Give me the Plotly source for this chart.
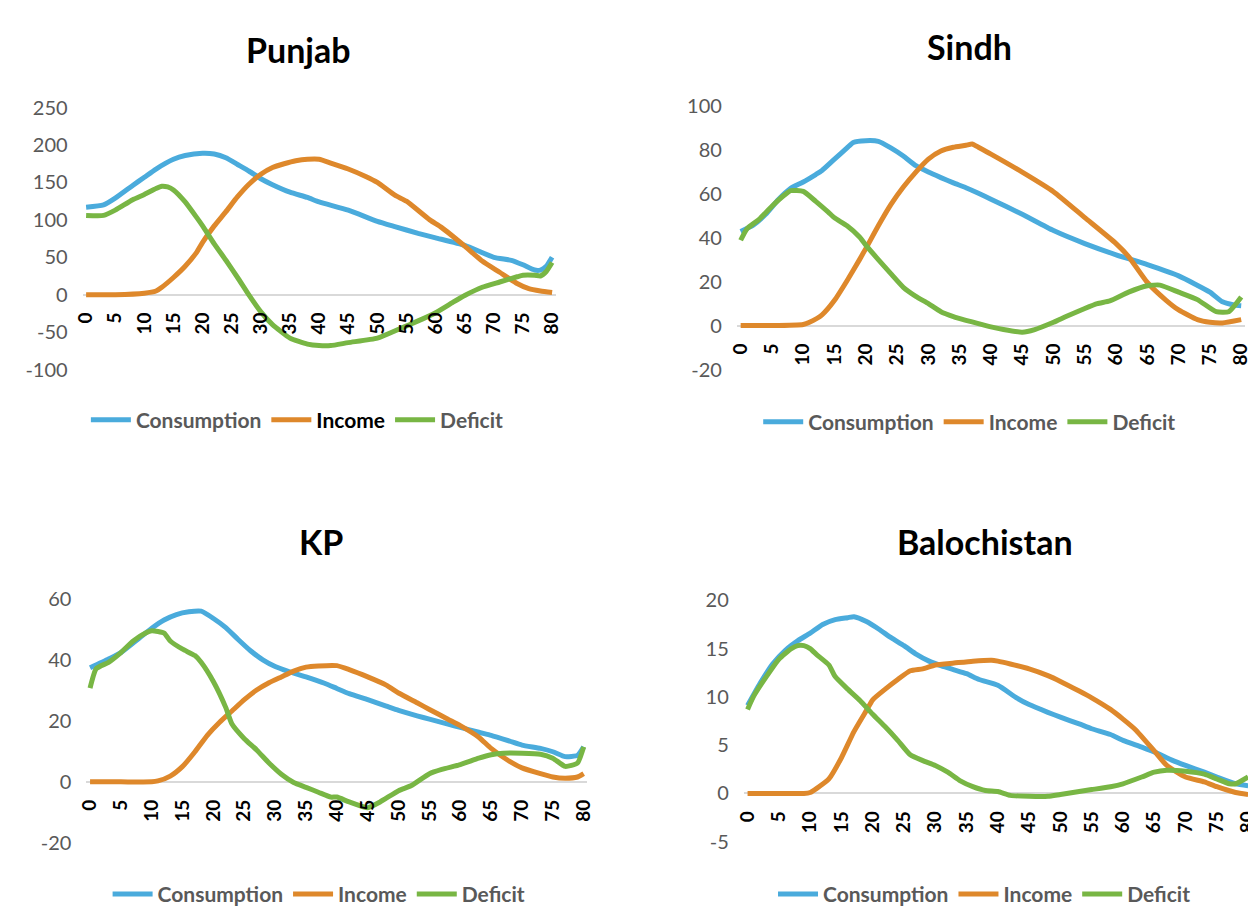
import plotly.graph_objects as go

W, H = 1256, 909

# ---------------- data ----------------
panels = ["Punjab", "Sindh", "KP", "Balochistan"]
series_names = ["Consumption", "Income", "Deficit"]

# Punjab
pun_cons_age = [0, 3, 5, 8, 10, 12, 15, 17, 20, 22, 24, 26, 28, 30, 32, 35, 38, 40, 45, 50, 53, 57, 60, 65, 70, 73, 75, 77, 78, 79, 80]
pun_cons = [117, 120, 129, 146, 157, 168, 181, 186, 189, 188, 183, 174, 165, 155, 147, 137, 130, 124, 113, 98, 91, 82, 76, 66, 50, 46, 40, 33, 33, 38, 50]
pun_inc_age = [0, 5, 10, 12, 13, 15, 17, 19, 20, 22, 24, 26, 28, 30, 32, 34, 36, 38, 40, 42, 45, 48, 50, 53, 55, 59, 61, 65, 68, 71, 74, 76, 78, 80]
pun_inc = [0, 0, 2, 5, 10, 23, 38, 57, 70, 92, 111, 131, 148, 161, 170, 175, 179, 181, 181, 176, 168, 158, 150, 133, 125, 100, 90, 65, 45, 30, 15, 8, 5, 3]
pun_def_age = [0, 3, 5, 8, 10, 12, 13, 14, 15, 17, 19, 20, 22, 24, 26, 28, 30, 32, 35, 38, 40, 42, 45, 50, 54, 57, 60, 63, 65, 68, 71, 74, 75, 77, 78, 79, 80]
pun_def = [106, 106, 113, 127, 134, 142, 145, 144, 140, 124, 103, 92, 68, 46, 23, -1, -23, -40, -58, -66, -68, -68, -64, -58, -45, -35, -24, -10, -1, 10, 17, 24, 26, 26, 25, 31, 43]

# Sindh
sin_cons_age = [0, 2, 4, 6, 8, 10, 12, 13, 15, 17, 18, 20, 22, 24, 26, 28, 30, 32, 34, 36, 38, 40, 45, 50, 55, 60, 65, 70, 75, 77, 79, 80]
sin_cons = [42.8, 45.7, 50.6, 57.2, 62.4, 65.3, 68.7, 70.5, 75.7, 80.8, 83.3, 84.1, 83.8, 80.8, 77.1, 72.7, 69.8, 67.3, 64.9, 62.7, 60.2, 57.5, 50.6, 43.2, 37.3, 32.2, 27.7, 22.6, 15.2, 10.8, 9.3, 9.0]
sin_inc_age = [0, 5, 10, 11, 13, 15, 17, 19, 20, 22, 24, 26, 28, 30, 32, 34, 36, 37, 38, 40, 45, 50, 55, 60, 62, 65, 68, 70, 73, 75, 77, 80]
sin_inc = [0, 0, 0.5, 1.5, 4.9, 11.5, 20.4, 30, 35, 45.4, 55, 63, 69.8, 75.7, 79.4, 81.1, 82, 82.6, 81.1, 78, 69.8, 60.9, 49.1, 37.3, 31.4, 19.6, 11.5, 7.1, 2.7, 1.5, 1.2, 2.7]
sin_def_age = [0, 1, 3, 5, 7, 8, 10, 12, 14, 15, 17, 19, 20, 22, 24, 26, 28, 30, 32, 34, 36, 38, 40, 42, 45, 47, 50, 52, 55, 57, 59, 62, 65, 67, 70, 73, 76, 78, 80]
sin_def = [38.8, 44, 48.4, 54.3, 59.4, 61.4, 61, 56.5, 51.6, 49, 45.4, 40.3, 36.6, 30, 23.6, 17.4, 13.3, 10, 6.3, 4.1, 2.4, 0.9, -0.6, -1.8, -3, -1.8, 1.5, 4.1, 7.8, 10, 11.2, 15.2, 18.1, 18.4, 15.2, 11.8, 6.3, 6.3, 13]

# KP
kp_cons_age = [0, 3, 5, 8, 10, 12, 14, 16, 18, 20, 22, 24, 26, 28, 30, 32, 35, 38, 40, 42, 45, 48, 50, 53, 55, 58, 60, 63, 65, 68, 70, 73, 75, 77, 79, 80]
kp_cons = [37.5, 40.4, 42.5, 47.3, 50.5, 53.2, 55, 55.9, 56.1, 53.7, 50.7, 46.8, 43.1, 40.1, 37.9, 36.4, 34.5, 32.4, 30.7, 29, 27, 24.9, 23.5, 21.7, 20.6, 19, 17.9, 16.3, 15.3, 13.4, 12.1, 11, 9.9, 8.3, 8.7, 11.5]
kp_inc_age = [0, 5, 10, 11, 13, 15, 17, 19, 21, 23, 25, 27, 29, 31, 33, 35, 37, 40, 42, 45, 48, 50, 53, 55, 58, 60, 63, 65, 68, 70, 73, 75, 77, 79, 80]
kp_inc = [0, 0, 0, 0.3, 1.9, 5.1, 9.9, 15.3, 19.6, 23.3, 27, 30.2, 32.6, 34.5, 36.4, 37.7, 38.1, 38.2, 36.9, 34.5, 31.8, 29.2, 26, 23.8, 20.6, 18.5, 14.7, 11, 6.7, 4.6, 2.7, 1.6, 1.2, 1.6, 2.7]
kp_def_age = [0, 1, 3, 5, 7, 9, 10, 12, 13, 15, 17, 18, 20, 22, 23, 25, 27, 29, 31, 33, 35, 37, 39, 40, 42, 45, 47, 50, 52, 55, 57, 60, 63, 65, 67, 70, 73, 75, 77, 79, 80]
kp_def = [30.8, 37.2, 39.3, 42.5, 46.3, 48.9, 49.7, 48.9, 46.3, 43.6, 41.5, 39.3, 32.9, 24.4, 19, 14.2, 10.5, 6.2, 2.5, -0.2, -1.8, -3.4, -5, -5, -6.6, -8.5, -6.6, -2.9, -1.3, 2.7, 4.1, 5.7, 7.8, 8.9, 9.4, 9.4, 9.1, 7.8, 5.1, 6.2, 11.5]

# Balochistan
bal_cons_age = [0, 2, 4, 6, 8, 10, 12, 14, 16, 17, 19, 21, 23, 25, 27, 29, 31, 33, 35, 37, 40, 43, 45, 48, 50, 53, 55, 58, 60, 63, 65, 68, 70, 73, 75, 78, 80]
bal_cons = [9.1, 11.4, 13.4, 14.8, 15.8, 16.6, 17.5, 18, 18.2, 18.3, 17.8, 17, 16.1, 15.3, 14.4, 13.7, 13.2, 12.8, 12.4, 11.8, 11.2, 9.9, 9.2, 8.4, 7.9, 7.2, 6.7, 6.1, 5.5, 4.8, 4.3, 3.4, 2.9, 2.2, 1.7, 1.0, 0.8]
bal_inc_age = [0, 5, 9, 10, 11, 13, 15, 17, 19, 20, 22, 24, 26, 28, 30, 33, 36, 39, 40, 42, 45, 48, 50, 53, 55, 58, 60, 62, 65, 67, 70, 73, 75, 78, 80]
bal_inc = [0, 0, 0, 0.1, 0.5, 1.5, 3.7, 6.4, 8.6, 9.7, 10.8, 11.8, 12.7, 12.9, 13.3, 13.5, 13.7, 13.8, 13.7, 13.4, 12.9, 12.2, 11.6, 10.6, 9.9, 8.7, 7.7, 6.6, 4.4, 2.9, 1.7, 1.2, 0.7, 0.1, -0.1]
bal_def_age = [0, 1, 3, 5, 7, 8, 9, 10, 11, 13, 14, 16, 18, 20, 22, 24, 26, 28, 30, 32, 34, 36, 38, 40, 42, 45, 48, 50, 53, 55, 58, 60, 63, 65, 67, 70, 73, 75, 77, 78, 80]
bal_def = [8.7, 10.1, 12.1, 13.9, 15, 15.3, 15.3, 15, 14.4, 13.3, 12.1, 10.8, 9.6, 8.2, 6.9, 5.5, 4, 3.4, 2.9, 2.2, 1.3, 0.7, 0.3, 0.2, -0.2, -0.3, -0.3, -0.1, 0.2, 0.4, 0.7, 1, 1.7, 2.2, 2.4, 2.3, 2, 1.5, 1, 1, 1.7]

x_tickvals = list(range(0, 81, 5))
x_ticktext = [str(v) for v in x_tickvals]

y_ranges = {"Punjab": [-100, 250], "Sindh": [-20, 100], "KP": [-20, 60], "Balochistan": [-5, 20]}
y_dticks = {"Punjab": 50, "Sindh": 20, "KP": 20, "Balochistan": 5}

panel_data = {
    "Punjab": [(pun_cons_age, pun_cons), (pun_inc_age, pun_inc), (pun_def_age, pun_def)],
    "Sindh": [(sin_cons_age, sin_cons), (sin_inc_age, sin_inc), (sin_def_age, sin_def)],
    "KP": [(kp_cons_age, kp_cons), (kp_inc_age, kp_inc), (kp_def_age, kp_def)],
    "Balochistan": [(bal_cons_age, bal_cons), (bal_inc_age, bal_inc), (bal_def_age, bal_def)],
}

# ---------------- styling / layout (pixels) ----------------
colors = ["#4aabdc", "#de882b", "#78b644"]
geom = {
    "Punjab": dict(x0=70, x80=542, ytop=89, ybot=358, title=(285, 29), legend=(284, 410)),
    "Sindh": dict(x0=733, x80=1240, ytop=87, ybot=358, title=(965, 26), legend=(965, 412)),
    "KP": dict(x0=74, x80=574, ytop=594, ybot=844, title=(308, 535), legend=(306, 897)),
    "Balochistan": dict(x0=740, x80=1247, ytop=595, ybot=843, title=(980, 535), legend=(980, 897)),
}

fig = go.Figure()
layout = dict(
    width=W, height=H, margin=dict(l=0, r=0, t=0, b=0),
    paper_bgcolor="white", plot_bgcolor="white",
    font=dict(family="Lato, Open Sans, sans-serif", color="#595959"),
    annotations=[],
)

for i, p in enumerate(panels):
    g = geom[p]
    sfx = "" if i == 0 else str(i + 1)
    xa, ya = "x" + sfx, "y" + sfx
    leg = "legend" + sfx
    ppy = (g["x80"] - g["x0"]) / 80.0
    pad = 0.6
    xdom = [(g["x0"] - pad * ppy) / W, (g["x80"] + pad * ppy) / W]
    ydom = [1 - g["ybot"] / H, 1 - g["ytop"] / H]
    ymin, ymax = y_ranges[p]
    zero_px = g["ytop"] + (g["ybot"] - g["ytop"]) * (ymax - 0) / (ymax - ymin)
    y_tickvals = list(range(ymin, ymax + 1, y_dticks[p]))
    y_ticktext = [str(v) for v in y_tickvals]

    for k, (ages, vals) in enumerate(panel_data[p]):
        name = series_names[k]
        if p == "Punjab" and name == "Income":
            name = "<span style='color:#000000'>Income</span>"
        fig.add_trace(go.Scatter(
            x=ages, y=vals, mode="lines", name=name,
            line=dict(color=colors[k], width=5, shape="spline", smoothing=0.5),
            xaxis=xa, yaxis=ya, legend=leg, showlegend=True,
        ))

    layout["xaxis" + sfx] = dict(
        domain=xdom, range=[-pad, 80 + pad], anchor="free", position=1 - zero_px / H,
        tickmode="array", tickvals=x_tickvals, ticktext=x_ticktext, tickangle=-90,
        tickfont=dict(family="Lato, sans-serif", size=19, color="#000000", weight="bold"),
        showgrid=False, zeroline=False, showline=False, ticks="", ticklabelstandoff=13,
        fixedrange=True,
    )
    layout["yaxis" + sfx] = dict(
        domain=ydom, range=[ymin, ymax], anchor=xa,
        tickmode="array", tickvals=y_tickvals, ticktext=y_ticktext,
        tickfont=dict(family="Lato, sans-serif", size=20, color="#595959"),
        showgrid=False, zeroline=True, zerolinecolor="#d9d9d9", zerolinewidth=1.5,
        showline=False, ticks="", ticklabelstandoff=14, fixedrange=True,
    )
    layout[leg] = dict(
        orientation="h", x=g["legend"][0] / W, xanchor="center",
        y=1 - g["legend"][1] / H, yanchor="middle",
        font=dict(family="Lato, sans-serif", size=21, color="#595959", weight="bold"),
        itemwidth=40, tracegroupgap=0, bgcolor="rgba(0,0,0,0)",
    )
    layout["annotations"].append(dict(
        text="<b>%s</b>" % p, x=g["title"][0] / W, y=1 - g["title"][1] / H,
        xref="paper", yref="paper", xanchor="center", yanchor="middle", showarrow=False,
        font=dict(family="Lato, sans-serif", size=34, color="#000000"),
    ))

fig.update_layout(**layout)
fig.write_html("out.html")
